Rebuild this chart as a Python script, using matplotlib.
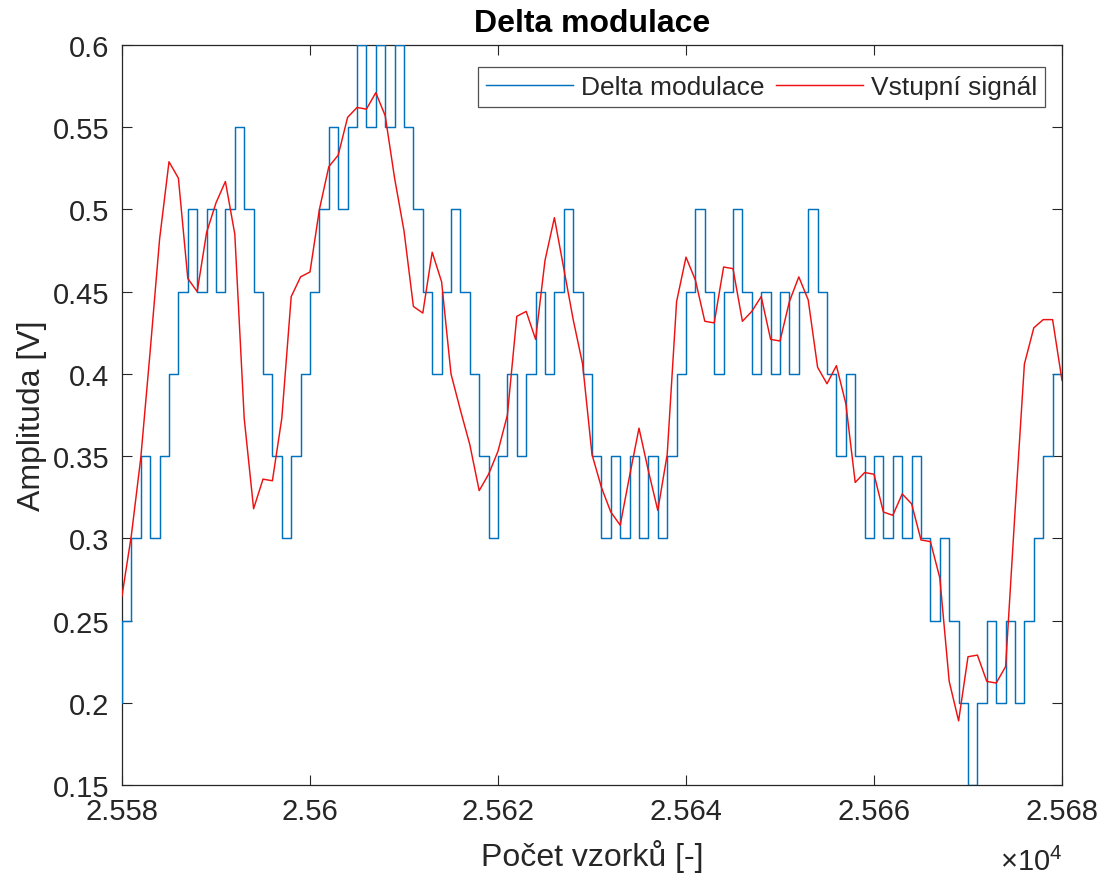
import matplotlib
matplotlib.use("Agg")
import matplotlib.pyplot as plt

plt.rcParams['font.family'] = ['Liberation Sans', 'DejaVu Sans']
plt.rcParams['mathtext.fontset'] = 'custom'
plt.rcParams['mathtext.rm'] = 'Liberation Sans'
plt.rcParams['mathtext.it'] = 'Liberation Sans'

# staircase output of the delta modulator (one value per sample, first one is sample 25579)
dm_start = 25579
dm_values = [0.20,
             0.25, 0.30, 0.35, 0.30, 0.35, 0.40, 0.45, 0.50, 0.45, 0.50,
             0.45, 0.50, 0.55, 0.50, 0.45, 0.40, 0.35, 0.30, 0.35, 0.40,
             0.45, 0.50, 0.55, 0.50, 0.55, 0.60, 0.55, 0.60, 0.55, 0.60,
             0.55, 0.50, 0.45, 0.40, 0.45, 0.50, 0.45, 0.40, 0.35, 0.30,
             0.35, 0.40, 0.35, 0.40, 0.45, 0.40, 0.45, 0.50, 0.45, 0.40,
             0.35, 0.30, 0.35, 0.30, 0.35, 0.30, 0.35, 0.30, 0.35, 0.40,
             0.45, 0.50, 0.45, 0.40, 0.45, 0.50, 0.45, 0.40, 0.45, 0.40,
             0.45, 0.40, 0.45, 0.50, 0.45, 0.40, 0.35, 0.40, 0.35, 0.30,
             0.35, 0.30, 0.35, 0.30, 0.35, 0.30, 0.25, 0.30, 0.25, 0.20,
             0.15, 0.20, 0.25, 0.20, 0.25, 0.20, 0.25, 0.30, 0.35, 0.40,
             0.45]

# input signal, samples 25580 .. 25680
sig_start = 25580
sig_values = [0.265, 0.302, 0.349, 0.414, 0.482, 0.529, 0.519, 0.458, 0.450, 0.486,
              0.504, 0.517, 0.485, 0.373, 0.318, 0.336, 0.335, 0.373, 0.447, 0.459,
              0.462, 0.500, 0.526, 0.533, 0.556, 0.562, 0.561, 0.571, 0.557, 0.519,
              0.487, 0.441, 0.437, 0.474, 0.456, 0.400, 0.378, 0.357, 0.329, 0.339,
              0.353, 0.375, 0.435, 0.438, 0.421, 0.469, 0.495, 0.464, 0.433, 0.406,
              0.351, 0.331, 0.316, 0.308, 0.338, 0.367, 0.341, 0.317, 0.351, 0.444,
              0.471, 0.457, 0.432, 0.431, 0.465, 0.464, 0.432, 0.438, 0.447, 0.421,
              0.420, 0.444, 0.459, 0.445, 0.404, 0.394, 0.405, 0.382, 0.334, 0.340,
              0.339, 0.316, 0.314, 0.327, 0.321, 0.299, 0.298, 0.276, 0.213, 0.189,
              0.228, 0.229, 0.213, 0.212, 0.222, 0.316, 0.406, 0.428, 0.433, 0.433,
              0.396]

x_ticks = [25580, 25600, 25620, 25640, 25660, 25680]
x_ticklabels = ["2.558", "2.56", "2.562", "2.564", "2.566", "2.568"]
y_ticks = [0.15, 0.2, 0.25, 0.3, 0.35, 0.4, 0.45, 0.5, 0.55, 0.6]
y_ticklabels = ["0.15", "0.2", "0.25", "0.3", "0.35", "0.4", "0.45", "0.5", "0.55", "0.6"]

dm_x = list(range(dm_start, dm_start + len(dm_values)))
sig_x = list(range(sig_start, sig_start + len(sig_values)))

W, H = 1106, 879
fig = plt.figure(figsize=(W / 100, H / 100), dpi=100)
left, right, top, bottom = 122, 1062, 46, 786
ax = fig.add_axes([left / W, 1 - bottom / H, (right - left) / W, (bottom - top) / H])

dark = "#262626"
ax.plot(dm_x, dm_values, drawstyle="steps-post", color="#0072BD", lw=1.05,
        label="Delta modulace", zorder=3)
ax.plot(sig_x, sig_values, color="#EE1111", lw=1.05, label="Vstupní signál", zorder=3)

ax.set_xlim(25580, 25680)
ax.set_ylim(0.15, 0.6)
ax.set_xticks(x_ticks)
ax.set_xticklabels(x_ticklabels)
ax.set_yticks(y_ticks)
ax.set_yticklabels(y_ticklabels)

ax.tick_params(direction="in", top=True, right=True, length=7, width=0.8,
               labelsize=21, colors=dark)
ax.tick_params(axis="x", pad=9)
ax.tick_params(axis="y", pad=9)
for s in ax.spines.values():
    s.set_color(dark)
    s.set_linewidth(0.9)

ax.set_title("Delta modulace", fontsize=23, fontweight="bold", pad=10)
ax.set_xlabel("Počet vzorků [-]", fontsize=23, color=dark, labelpad=10)
ax.set_ylabel("Amplituda [V]", fontsize=23, color=dark, labelpad=4)

fig.text(right / W, 1 - 862 / H, r"$\times10^{4}$", fontsize=21, color=dark,
         ha="right", va="center")

leg = ax.legend(loc="upper right", bbox_to_anchor=(0.982, 0.97), ncol=2,
                fontsize=19, frameon=True, fancybox=False, borderaxespad=0,
                handlelength=3.3, handletextpad=0.3, columnspacing=0.45,
                borderpad=0.3)
leg.get_frame().set_edgecolor(dark)
leg.get_frame().set_linewidth(0.9)
leg.set_zorder(5)
for t in leg.get_texts():
    t.set_color(dark)

plt.savefig("out.png", dpi=100)
